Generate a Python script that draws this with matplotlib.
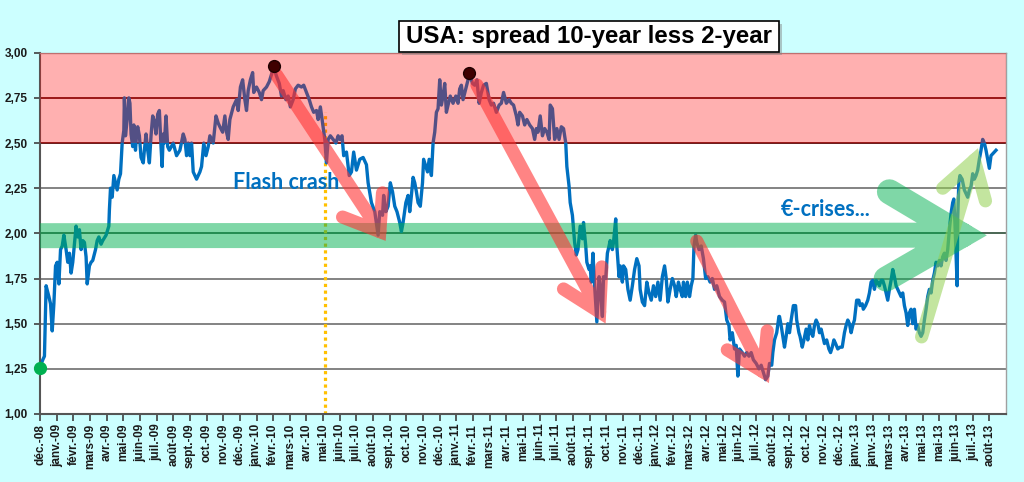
import numpy as np
import matplotlib
matplotlib.use("Agg")
import matplotlib.pyplot as plt
from matplotlib.patches import Rectangle

# ---------------- data ----------------
# x = days since 23 Dec 2008 (Excel axis: major unit 30 days)
spread_days = [
    0, 5, 8, 11, 16, 19, 22, 25, 28, 31, 34, 37, 40, 43, 47, 50, 53, 56, 59, 62, 65, 68, 71, 74, 77, 80, 83, 85,
    89, 92, 95, 100, 103, 106, 110, 113, 119, 124, 125, 127, 130, 133, 136, 139, 142, 145, 148, 151, 152, 154,
    157, 160, 162, 164, 167, 169, 172, 174, 176, 179, 182, 186, 188, 191, 194, 197, 200, 203, 206, 209, 212,
    215, 218, 220, 222, 224, 227, 230, 233,
    240, 246, 252, 258, 261, 264, 267, 270, 273, 276, 282, 288, 291, 295, 299, 303, 306, 312, 317, 321, 324,
    329, 333, 336, 339, 342, 348, 354, 357, 361, 365, 369, 372, 375, 379, 383, 385, 390, 395, 399, 402, 408,
    413, 417, 421, 426, 431, 435, 438, 443, 447, 451, 456, 460, 465, 471, 475, 480, 485, 489, 493, 498, 501,
    505, 510, 513, 516, 519, 523, 528, 533, 537, 540, 544, 547, 552, 557, 561, 565, 570,
    576, 582, 588, 591, 597, 603, 609, 612, 617, 619, 623, 627, 631, 635, 639, 643, 648, 651, 654, 659, 663,
    666, 669, 672, 675, 678, 681, 685, 689, 691, 695, 698, 701, 705, 708, 711, 714, 717, 720, 723, 726, 729,
    732, 735, 739, 744, 749, 753, 756, 759, 762, 767, 771, 774, 779, 783, 787, 791, 795, 799, 804, 809, 813,
    817, 822, 827, 831, 835, 840, 845, 849, 853, 858, 861, 864, 869, 873, 877, 882, 887, 891, 894, 897, 901,
    905, 909, 913, 917, 919, 923, 927, 931, 935, 939, 943, 947, 949, 953, 955, 959, 963, 966, 969,
    973, 977, 979, 983, 985, 989, 991, 993, 996, 999, 1003, 1007, 1009, 1013, 1015, 1019, 1022, 1025, 1027,
    1031, 1033, 1037, 1039, 1043, 1045, 1049, 1051, 1055, 1059, 1063, 1067, 1071, 1075, 1079, 1081, 1085,
    1089, 1093, 1097, 1101, 1105, 1109, 1113, 1117, 1121, 1125, 1128, 1131, 1135, 1139, 1143, 1146, 1150,
    1153, 1157, 1159, 1163, 1166, 1170, 1173, 1176, 1178, 1181, 1183, 1187, 1191, 1195, 1199, 1203, 1207,
    1211, 1215, 1219, 1224, 1229, 1233, 1237, 1241, 1243, 1247, 1251, 1254, 1257, 1260, 1265, 1269, 1273,
    1277, 1281, 1285, 1290, 1295, 1299, 1303, 1307, 1311, 1314, 1318, 1320, 1323, 1327, 1331,
    1332, 1335, 1338, 1341, 1344, 1347, 1350, 1353, 1357, 1361, 1363, 1367, 1369, 1373, 1376, 1380, 1383,
    1386, 1389, 1392, 1395, 1398, 1401, 1404, 1407, 1410, 1413, 1417, 1421, 1424, 1427, 1430, 1433, 1437,
    1441, 1445, 1449, 1452, 1455, 1458, 1461, 1464, 1467, 1471, 1475, 1477, 1481, 1483, 1487, 1491, 1494,
    1497, 1500, 1503, 1506, 1509, 1512, 1515, 1518, 1521, 1524, 1527, 1530, 1533, 1536, 1539, 1542, 1545,
    1548, 1551, 1554, 1557, 1560, 1563, 1566, 1569, 1572, 1575, 1578, 1581, 1584, 1587, 1590, 1593, 1596,
    1599, 1602, 1605, 1608, 1611, 1614, 1617, 1620, 1623, 1626, 1629, 1632, 1635, 1638, 1641, 1644, 1646,
    1648, 1650, 1652, 1653, 1655, 1657, 1661, 1665, 1668, 1671, 1674, 1677, 1680, 1683, 1686, 1689, 1692,
    1695, 1698, 1701, 1704, 1707, 1710, 1713, 1716, 1719, 1722,
]
spread_values = [
    1.26, 1.30, 1.32, 1.71, 1.65, 1.61, 1.46, 1.61, 1.82, 1.84, 1.72, 1.91, 1.93, 1.99, 1.91, 1.84, 1.89, 1.78,
    1.84, 1.94, 2.04, 1.98, 2.02, 1.91, 1.96, 1.95, 1.87, 1.72,
    1.82, 1.84, 1.85, 1.91, 1.96, 1.98, 1.94, 1.96, 1.99, 2.04, 2.13, 2.25, 2.20, 2.32, 2.28, 2.24, 2.30, 2.33,
    2.50, 2.57, 2.75, 2.54,
    2.63, 2.75, 2.72, 2.55, 2.48, 2.60, 2.46, 2.55, 2.59, 2.54, 2.42, 2.39, 2.46, 2.55, 2.46, 2.39, 2.54, 2.65,
    2.62, 2.55, 2.66,
    2.68, 2.48, 2.37, 2.55, 2.50, 2.65, 2.48, 2.46,
    2.50, 2.43, 2.46, 2.55, 2.52, 2.43, 2.50, 2.43, 2.50, 2.34, 2.30, 2.34, 2.37, 2.50, 2.43, 2.48, 2.54, 2.50,
    2.65, 2.61, 2.59,
    2.56, 2.65, 2.56, 2.52, 2.63, 2.70, 2.74, 2.68, 2.81, 2.85, 2.74, 2.68, 2.79, 2.85, 2.89, 2.78, 2.81, 2.78,
    2.74, 2.79, 2.81,
    2.84, 2.88, 2.92, 2.87, 2.83, 2.76, 2.79, 2.74, 2.76, 2.70, 2.74, 2.80, 2.82, 2.81, 2.82, 2.78, 2.74, 2.70,
    2.67, 2.68, 2.63,
    2.70, 2.59, 2.52, 2.39, 2.52, 2.54, 2.52, 2.50, 2.54, 2.52, 2.54, 2.43, 2.45, 2.32, 2.34, 2.45, 2.35,
    2.41, 2.42, 2.38, 2.28, 2.17, 2.12, 1.99, 2.12, 2.10, 2.21, 2.12, 2.15, 2.28, 2.23, 2.15, 2.12, 2.06, 2.01,
    2.06, 2.17, 2.21,
    2.12, 2.21, 2.31, 2.28, 2.23, 2.17, 2.15, 2.28, 2.41, 2.37, 2.34, 2.41, 2.32, 2.50, 2.56, 2.67, 2.69, 2.85,
    2.71, 2.76, 2.83,
    2.67, 2.71, 2.76, 2.72, 2.76, 2.72, 2.80, 2.82, 2.74, 2.80, 2.85, 2.88, 2.83, 2.82, 2.85, 2.72, 2.78, 2.82,
    2.83, 2.74, 2.71,
    2.72, 2.67, 2.71, 2.72, 2.78, 2.72, 2.74, 2.72, 2.71, 2.65, 2.60, 2.67, 2.65, 2.60, 2.63, 2.60, 2.58, 2.52,
    2.58, 2.56, 2.65,
    2.54, 2.58, 2.56, 2.52, 2.71, 2.69, 2.52, 2.58, 2.52, 2.59, 2.58, 2.50, 2.37, 2.26, 2.17, 2.10, 1.95, 1.88,
    1.91,
    2.04, 1.97, 2.06, 1.93, 1.84, 1.80, 1.82, 1.73, 1.89, 1.71, 1.51, 1.76, 1.71, 1.54, 1.76, 1.75, 1.89, 1.93,
    1.96,
    1.91, 1.95, 2.08, 1.93, 1.76, 1.82, 1.73, 1.82, 1.80, 1.69, 1.63, 1.71, 1.80, 1.86, 1.82, 1.69, 1.62,
    1.60, 1.73, 1.67, 1.63, 1.71, 1.65, 1.73, 1.63, 1.76, 1.82, 1.75, 1.62, 1.69, 1.75, 1.71, 1.65, 1.73,
    1.69, 1.65, 1.73, 1.65, 1.73, 1.65, 1.71, 1.75, 1.93, 1.99, 1.95, 1.91, 1.93, 1.86, 1.75, 1.76, 1.73,
    1.75, 1.69, 1.71, 1.65, 1.63, 1.62, 1.52, 1.49, 1.41, 1.45, 1.36, 1.38, 1.21, 1.36, 1.34, 1.32, 1.34,
    1.32, 1.34, 1.30, 1.28, 1.25, 1.27, 1.23, 1.19, 1.21, 1.28, 1.27, 1.34, 1.41, 1.45, 1.54,
    1.54, 1.49, 1.43, 1.37, 1.43, 1.50, 1.45, 1.52, 1.60, 1.60, 1.52, 1.45, 1.43, 1.37, 1.41, 1.47, 1.41,
    1.49, 1.45, 1.43, 1.49, 1.52, 1.50, 1.45, 1.47, 1.43, 1.39, 1.41, 1.36, 1.34, 1.37, 1.41, 1.39, 1.36,
    1.37, 1.37, 1.45, 1.49, 1.52, 1.50, 1.45, 1.49, 1.52, 1.63, 1.63, 1.60, 1.61, 1.58, 1.60, 1.63, 1.67,
    1.73, 1.74, 1.69, 1.74, 1.73, 1.71, 1.74, 1.74, 1.71, 1.67, 1.63, 1.69, 1.74, 1.80, 1.76, 1.71, 1.69,
    1.67, 1.65, 1.67, 1.60, 1.56, 1.49, 1.56, 1.58, 1.50, 1.58, 1.47, 1.49, 1.45, 1.43, 1.45, 1.52, 1.58,
    1.65, 1.69, 1.67, 1.74, 1.78, 1.84, 1.82, 1.85, 1.82, 1.87, 1.89, 1.85, 1.91, 2.02, 2.11, 2.17, 2.19,
    2.06, 1.89, 1.71, 2.08, 2.28, 2.32, 2.30, 2.24, 2.22, 2.20, 2.24, 2.26, 2.33, 2.30, 2.32, 2.35, 2.41,
    2.46, 2.52, 2.50, 2.46, 2.41, 2.36, 2.43, 2.44, 2.45, 2.46,
]

tick_labels = (
    ["déc.-08"]
    + [m + "-09" for m in ["janv.", "févr.", "mars", "avr.", "mai", "juin", "juil.", "août", "sept.", "oct.", "nov.", "déc."]]
    + [m + "-10" for m in ["janv.", "févr.", "mars", "avr.", "mai", "juin", "juil.", "août", "sept.", "oct.", "nov.", "déc."]]
    + [m + "-11" for m in ["janv.", "févr.", "mars", "avr.", "mai", "juin", "juil.", "août", "sept.", "oct.", "nov.", "déc."]]
    + [m + "-12" for m in ["janv.", "févr.", "mars", "avr.", "mai", "juin", "juil.", "août", "sept.", "oct.", "nov.", "déc."]]
    + ["janv.-13", "janv.-13", "mars-13", "avr.-13", "mai-13", "mai-13", "juin-13", "juil.-13", "août-13"]
)
y_ticks = [1.00, 1.25, 1.50, 1.75, 2.00, 2.25, 2.50, 2.75, 3.00]

title = "USA: spread 10-year less 2-year"

# ---------------- figure ----------------
W, H = 1024, 482
fig = plt.figure(figsize=(W / 100, H / 100), dpi=100, facecolor="#CCFFFF")
ax = fig.add_axes([40 / W, 1 - 414 / H, (1006 - 40) / W, (414 - 52.7) / H])
ax.set_facecolor("white")

XMAX = 30 * len(tick_labels)
ax.set_xlim(0, XMAX)
ax.set_ylim(1.0, 3.0)

# gridlines
for yv in y_ticks[1:-1]:
    col = "#5E0A0A" if yv >= 2.5 else ("#3A5A45" if yv == 2.0 else "#7A7A7A")
    ax.axhline(yv, color=col, lw=1.3, zorder=1)

# dotted 'flash crash' marker
ax.plot([513, 513], [1.0, 2.67], color="#FFC000", lw=2.3, dashes=(1, 1.1),
        solid_capstyle="butt", dash_capstyle="butt", zorder=1.5)

# main line
ax.plot(spread_days, spread_values, color="#0070C0", lw=2.4, zorder=2,
        solid_joinstyle="round")

# red zone overlay
ax.axhspan(2.5, 3.0, color=(1.0, 0.06, 0.06), alpha=0.33, lw=0, zorder=3)

nan = np.nan

def arrow(start, tip, left, right, color, alpha, lw, z):
    xs = [start[0], tip[0], nan, left[0], tip[0], right[0]]
    ys = [start[1], tip[1], nan, left[1], tip[1], right[1]]
    ax.plot(xs, ys, color=color, alpha=alpha, lw=lw, solid_capstyle="round",
            solid_joinstyle="miter", zorder=z, clip_on=True)

# big green horizontal arrow (shaft = band)
arrow((-60, 1.987), (1661, 1.99), (1530, 2.23), (1524, 1.747),
      "#00B050", 0.5, 18, 3.2)
# light green up arrow
arrow((1588, 1.427), (1683, 2.405), (1626, 2.25), (1703, 2.18),
      "#92D050", 0.55, 9.5, 3.4)
# red arrows
arrow((426, 2.877), (612, 2.01), (545, 2.09), (617, 2.224),
      (1.0, 0.2, 0.2), 0.6, 9.5, 4)
arrow((787, 2.821), (1008, 1.565), (943, 1.692), (1012, 1.814),
      (1.0, 0.2, 0.2), 0.6, 9.5, 4)
arrow((1183, 1.957), (1303, 1.233), (1238, 1.355), (1310, 1.46),
      (1.0, 0.2, 0.2), 0.6, 9.5, 4)

# markers
ax.plot([421, 772], [2.925, 2.886], "o", color="#3F0000", mec="#200000", ms=8.5, zorder=5)
ax.plot([0], [1.255], "o", color="#00B050", mec="#00B050", ms=8.5, zorder=5, clip_on=False)

# texts
ax.text(443, 2.28, "Flash crash", color="#0070C0", fontsize=15.5, fontweight="bold",
        family="Lato", ha="center", va="center", zorder=6)
ax.text(1416, 2.13, "€-crises...", color="#0070C0", fontsize=15.5, fontweight="bold",
        family="Lato", ha="center", va="center", zorder=6)

# axes styling
ax.set_xticks([30 * i for i in range(len(tick_labels))])
ax.set_xticklabels(tick_labels, rotation=90, fontsize=8.5, fontweight="bold",
                   family="Liberation Sans", color="#1A1A1A")
ax.set_yticks(y_ticks)
ax.set_yticklabels([f"{v:.2f}".replace(".", ",") for v in y_ticks], fontsize=8.5,
                   fontweight="bold", family="Liberation Sans", color="#1A1A1A")
ax.tick_params(axis="x", length=5, width=1.2, color="#404040", pad=2)
ax.tick_params(axis="y", length=4, width=1.2, color="#404040", pad=5)
for s in ["left", "bottom"]:
    ax.spines[s].set_color("#555555")
    ax.spines[s].set_linewidth(1.5)
for s in ["right", "top"]:
    ax.spines[s].set_color("#A0A0A0")
    ax.spines[s].set_linewidth(1.0)

# title box with shadow
bx0, by0, bw, bh = 399 / W, 1 - 52.3 / H, 380 / W, 31.6 / H
fig.patches.append(Rectangle((bx0 + 3 / W, by0 - 3 / H), bw, bh, transform=fig.transFigure,
                             facecolor="#808080", alpha=0.45, edgecolor="none", zorder=10))
fig.patches.append(Rectangle((bx0, by0), bw, bh, transform=fig.transFigure,
                             facecolor="white", edgecolor="black", lw=1.2, zorder=11))
fig.text(bx0 + bw / 2, by0 + bh / 2, title, fontsize=17.3, fontweight="bold",
         family="Liberation Sans", ha="center", va="center", color="black", zorder=12)

fig.savefig("out.png", dpi=100, facecolor=fig.get_facecolor())
